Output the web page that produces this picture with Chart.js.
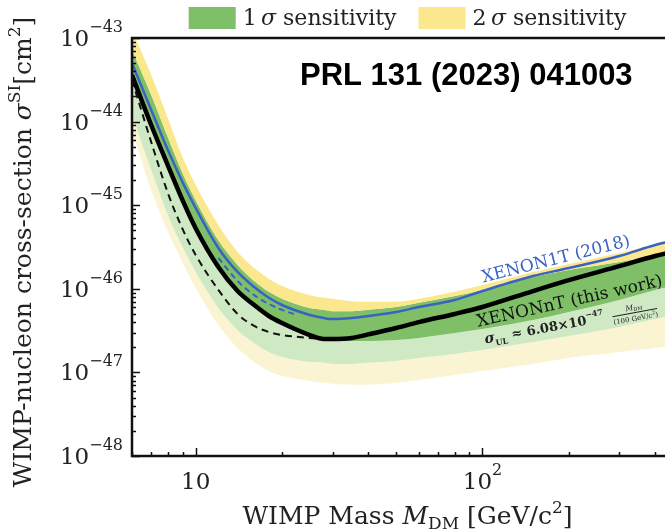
<!DOCTYPE html>
<html>
<head>
<meta charset="utf-8">
<script src="https://cdn.jsdelivr.net/npm/chart.js@4.4.0/dist/chart.umd.min.js"></script>
<style>
  html, body { margin: 0; padding: 0; background: #fff; }
  /* canvas is a bit wider than the page, the right frame edge falls outside */
  #wrap { width: 665px; height: 530px; overflow: hidden; }
</style>
</head>
<body>
<div id="wrap"><canvas id="limitChart" width="700" height="530"></canvas></div>
<script>
// WIMP mass grid [GeV/c^2]
const masses = [6, 7, 8, 9, 10, 12, 14, 16, 18, 20, 25, 28, 30, 35, 40, 50, 60, 80, 100, 150, 200, 300, 400, 500];

// XENONnT upper limit (power constrained) [cm^2]
const limitNT = [3.6e-44, 9.1e-45, 3.0e-45, 1.15e-45, 5.3e-46, 1.82e-46, 9.4e-47, 6.4e-47, 4.73e-47, 3.9e-47, 2.8e-47, 2.51e-47,
                 2.51e-47, 2.58e-47, 2.85e-47, 3.4e-47, 4.0e-47, 5.0e-47, 6.06e-47, 9.4e-47, 1.27e-46, 1.87e-46, 2.47e-46, 2.99e-46];

// unconstrained limit, low masses only
const unconstrainedMasses = [6, 7, 8, 9, 10, 12, 14, 16, 18, 20, 25, 28];
const unconstrained = [3.15e-44, 5.7e-45, 1.4e-45, 5.2e-46, 2.54e-46, 9.7e-47, 5.0e-47, 3.59e-47, 3.04e-47, 2.8e-47, 2.58e-47, 2.51e-47];

// XENON1T (2018)
const limit1T = [5.0e-44, 1.38e-44, 4.57e-45, 1.89e-45, 9.3e-46, 3.08e-46, 1.59e-46, 1.05e-46, 7.8e-47, 6.4e-47, 4.86e-47, 4.47e-47,
                 4.35e-47, 4.47e-47, 4.73e-47, 5.28e-47, 6.06e-47, 7.35e-47, 9.4e-47, 1.42e-46, 1.77e-46, 2.47e-46, 3.34e-46, 4.05e-46];
const limit1TDashMasses = [12, 14, 16, 18, 20, 22];
const limit1TDash = [2.34e-46, 1.24e-46, 8.4e-47, 6.6e-47, 5.6e-47, 5.0e-47];

// sensitivity bands
const sens2Up = [1.25e-43, 3.61e-44, 1.1e-44, 3.77e-45, 1.74e-45, 5.8e-46, 2.75e-46, 1.77e-46, 1.31e-46, 1.08e-46, 8.4e-47, 7.8e-47,
                 7.6e-47, 7.1e-47, 7.0e-47, 7.0e-47, 7.6e-47, 9.2e-47, 1.11e-46, 1.59e-46, 1.98e-46, 2.68e-46, 3.4e-46, 4.2e-46];
const sens1Up = [7.2e-44, 2.08e-44, 6.5e-45, 2.43e-45, 1.15e-45, 3.8e-46, 1.93e-46, 1.24e-46, 9.2e-47, 7.6e-47, 5.9e-47, 5.6e-47,
                 5.4e-47, 5.4e-47, 5.6e-47, 6.06e-47, 6.8e-47, 8.2e-47, 9.7e-47, 1.38e-46, 1.68e-46, 2.09e-46, 2.54e-46, 2.99e-46];
const sensMedian = [3.6e-44, 9.1e-45, 3.0e-45, 1.15e-45, 5.3e-46, 1.82e-46, 9.4e-47, 6.4e-47, 4.73e-47, 3.9e-47, 2.8e-47, 2.51e-47,
                    2.44e-47, 2.37e-47, 2.37e-47, 2.44e-47, 2.58e-47, 2.96e-47, 3.3e-47, 4.23e-47, 5.28e-47, 7.35e-47, 9.67e-47, 1.17e-46];
const sens1Down = [1.2e-44, 2.64e-45, 7.6e-46, 3.16e-46, 1.59e-46, 5.9e-47, 3.2e-47, 2.25e-47, 1.75e-47, 1.53e-47, 1.33e-47, 1.3e-47,
                   1.26e-47, 1.26e-47, 1.3e-47, 1.37e-47, 1.49e-47, 1.66e-47, 1.85e-47, 2.31e-47, 2.73e-47, 3.5e-47, 4.35e-47, 5.1e-47];
const sens2Down = [7.9e-45, 1.52e-45, 4.8e-46, 2.09e-46, 1.02e-46, 3.69e-47, 1.96e-47, 1.33e-47, 1.04e-47, 9.1e-48, 7.9e-48, 7.5e-48,
                   7.3e-48, 7.1e-48, 7.1e-48, 7.5e-48, 8.1e-48, 9.3e-48, 1.04e-47, 1.26e-47, 1.49e-47, 1.75e-47, 1.96e-47, 2.19e-47];

// tick labels: 10^power
const yTickPowers = [-48, -47, -46, -45, -44, -43];
const xTickPowers = [1, 2];

const col = {
  yellow: 'rgb(250,231,142)',
  green: 'rgb(126,191,103)',
  paleGreen: 'rgb(207,233,197)',
  paleYellow: 'rgb(251,244,211)',
  blue: 'rgb(58,98,196)',
  ink: '#222'
};
const serif = '"DejaVu Serif", serif';
const font = (size, style) => (style ? style + ' ' : '') + size + 'px ' + serif;

const pts = (xs, ys) => xs.map((m, i) => ({ x: m, y: ys[i] }));

// text made of pieces with their own font / baseline shift
function runWidth(ctx, parts) {
  let w = 0;
  for (const p of parts) {
    if (p.frac) {
      w += Math.max(runWidth(ctx, p.num), runWidth(ctx, p.den)) + 2;
    } else {
      ctx.font = p.font;
      w += ctx.measureText(p.t).width;
    }
  }
  return w;
}
function drawRun(ctx, parts, x, y) {
  for (const p of parts) {
    if (p.frac) {
      const wn = runWidth(ctx, p.num), wd = runWidth(ctx, p.den), w = Math.max(wn, wd);
      drawRun(ctx, p.num, x + 1 + (w - wn) / 2, y - 6);
      drawRun(ctx, p.den, x + 1 + (w - wd) / 2, y + 5);
      ctx.fillRect(x + 1, y - 3.5, w, 0.8);
      x += w + 2;
    } else {
      ctx.font = p.font;
      ctx.fillText(p.t, x, y + (p.dy || 0));
      x += ctx.measureText(p.t).width;
    }
  }
}
function power(p) {
  const parts = [{ t: '10', font: font(23) }];
  if (p !== 1) parts.push({ t: (p < 0 ? '\u2212' : '') + Math.abs(p), font: font(16), dy: -14 });
  return parts;
}

// rotated labels on the curves, anchored in data units (mass, cross-section)
const curveLabels = [
  { at: [182, 1.98e-46], angle: -14, color: col.blue,
    parts: [{ t: 'XENON1T (2018)', font: font(17) }] },
  { at: [203, 6.2e-47], angle: -12.5, color: '#111',
    parts: [{ t: 'XENONnT (this work)', font: font(17) }] },
  { at: [205, 3.45e-47], angle: -10.5, color: '#222',
    parts: [
      { t: '\u03c3', font: font(14, 'italic bold') },
      { t: 'UL', font: font(8, 'bold'), dy: 4 },
      { t: ' \u2248 6.08\u00d710', font: font(13, 'bold') },
      { t: '\u221247', font: font(8, 'bold'), dy: -7 },
      { t: '  ', font: font(12) },
      { frac: true,
        num: [{ t: 'M', font: font(7.5, 'italic') }, { t: 'DM', font: font(5), dy: 1 }],
        den: [{ t: '(100 GeV/c', font: font(7) }, { t: '2', font: font(5), dy: -3 }, { t: ')', font: font(7) }] }
    ] }
];

const decorations = {
  id: 'decorations',
  afterDatasetsDraw(chart) {
    const { ctx, chartArea: a, scales: { x, y } } = chart;
    ctx.save();

    // curve labels
    for (const lab of curveLabels) {
      const px = x.getPixelForValue(lab.at[0]), py = y.getPixelForValue(lab.at[1]);
      ctx.save();
      ctx.translate(px, py);
      ctx.rotate(lab.angle * Math.PI / 180);
      ctx.fillStyle = lab.color;
      ctx.textBaseline = 'alphabetic';
      drawRun(ctx, lab.parts, -runWidth(ctx, lab.parts) / 2, 0);
      ctx.restore();
    }

    // frame
    ctx.strokeStyle = '#111';
    ctx.lineWidth = 2.5;
    ctx.strokeRect(a.left, a.top, a.right - a.left, a.bottom - a.top);

    // inward ticks, majors at decades
    ctx.lineWidth = 1.5;
    ctx.beginPath();
    for (let e = -48; e <= -43; e++) {
      for (let k = 1; k <= 9; k++) {
        const v = k * Math.pow(10, e);
        if (v > 1.0001e-43) break;
        const py = Math.round(y.getPixelForValue(v)) + 0.5;
        ctx.moveTo(a.left, py);
        ctx.lineTo(a.left + (k === 1 ? 8 : 4), py);
      }
    }
    for (let e = 0; e <= 2; e++) {
      for (let k = 1; k <= 9; k++) {
        const v = k * Math.pow(10, e);
        if (v < x.min || v > x.max) continue;
        const px = Math.round(x.getPixelForValue(v)) + 0.5;
        ctx.moveTo(px, a.bottom);
        ctx.lineTo(px, a.bottom - (k === 1 ? 8 : 4));
      }
    }
    ctx.stroke();

    // tick labels
    ctx.fillStyle = col.ink;
    ctx.textBaseline = 'alphabetic';
    for (const p of yTickPowers) {
      const py = y.getPixelForValue(Math.pow(10, p));
      const parts = power(p);
      drawRun(ctx, parts, a.left - 9 - runWidth(ctx, parts), py + 8);
    }
    for (const p of xTickPowers) {
      const px = x.getPixelForValue(Math.pow(10, p));
      const parts = power(p);
      drawRun(ctx, parts, px - runWidth(ctx, parts) / 2, a.bottom + 33);
    }

    // axis titles
    const xTitle = [
      { t: 'WIMP Mass ', font: font(25) }, { t: 'M', font: font(25, 'italic') },
      { t: 'DM', font: font(17), dy: 5 }, { t: ' [GeV/c', font: font(25) },
      { t: '2', font: font(17), dy: -11 }, { t: ']', font: font(25) }
    ];
    drawRun(ctx, xTitle, (a.left + a.right) / 2 - runWidth(ctx, xTitle) / 2, 524);

    const yTitle = [
      { t: 'WIMP-nucleon cross-section ', font: font(25) }, { t: '\u03c3', font: font(25, 'italic') },
      { t: 'SI', font: font(17), dy: -11 }, { t: '[cm', font: font(25) },
      { t: '2', font: font(17), dy: -11 }, { t: ']', font: font(25) }
    ];
    ctx.save();
    ctx.translate(31, 252);
    ctx.rotate(-Math.PI / 2);
    drawRun(ctx, yTitle, -runWidth(ctx, yTitle) / 2, 0);
    ctx.restore();

    // legend above the axes
    const items = [
      { color: col.green, parts: [{ t: '1\u2009', font: font(22) }, { t: '\u03c3', font: font(22, 'italic') }, { t: ' sensitivity', font: font(22) }] },
      { color: col.yellow, parts: [{ t: '2\u2009', font: font(22) }, { t: '\u03c3', font: font(22, 'italic') }, { t: ' sensitivity', font: font(22) }] }
    ];
    const boxW = 47, boxH = 22, gap = 7, spacing = 22;
    let total = 0;
    items.forEach((it, i) => { total += boxW + gap + runWidth(ctx, it.parts) + (i ? spacing : 0); });
    let lx = (a.left + a.right) / 2 - total / 2;
    for (const it of items) {
      ctx.fillStyle = it.color;
      ctx.fillRect(lx, 7, boxW, boxH);
      ctx.fillStyle = col.ink;
      drawRun(ctx, it.parts, lx + boxW + gap, 25);
      lx += boxW + gap + runWidth(ctx, it.parts) + spacing;
    }

    // reference stamp
    ctx.fillStyle = '#000';
    ctx.font = 'bold 31px "Liberation Sans", Arial, sans-serif';
    ctx.fillText('PRL 131 (2023) 041003', 300, 85);

    ctx.restore();
  }
};

const band = (label, data, fill, color) => ({
  label, data: pts(masses, data), fill: fill === false ? false : { target: fill },
  backgroundColor: color, borderColor: 'rgba(0,0,0,0)', borderWidth: 0, order: 10
});

new Chart(document.getElementById('limitChart'), {
  type: 'line',
  data: {
    datasets: [
      { label: 'XENONnT', data: pts(masses, limitNT), borderColor: '#000', borderWidth: 4.5, fill: false, order: 0 },
      { label: 'unconstrained', data: pts(unconstrainedMasses, unconstrained), borderColor: '#111', borderWidth: 2,
        borderDash: [7, 5], fill: false, order: 1 },
      { label: 'XENON1T (2018)', data: pts(masses, limit1T), borderColor: col.blue, borderWidth: 2.5, fill: false, order: 2 },
      { label: 'XENON1T dashed', data: pts(limit1TDashMasses, limit1TDash), borderColor: col.blue, borderWidth: 2,
        borderDash: [6, 4], fill: false, order: 2 },
      band('2 sigma up', sens2Up, 5, col.yellow),
      band('1 sigma up', sens1Up, 6, col.green),
      band('median', sensMedian, false, 'rgba(0,0,0,0)'),
      band('1 sigma down', sens1Down, 6, col.paleGreen),
      band('2 sigma down', sens2Down, 7, col.paleYellow)
    ]
  },
  options: {
    responsive: false,
    animation: false,
    devicePixelRatio: 1,
    layout: { padding: { top: 38, right: 17, left: 0, bottom: 0 } },
    elements: {
      point: { radius: 0 },
      line: { cubicInterpolationMode: 'monotone' }
    },
    plugins: {
      legend: { display: false },
      tooltip: { enabled: false }
    },
    scales: {
      x: {
        type: 'logarithmic', min: 6, max: 500,
        ticks: { display: false }, grid: { display: false }, border: { display: false },
        afterFit: s => { s.height = 74; }
      },
      y: {
        type: 'logarithmic', min: 1e-48, max: 1e-43,
        ticks: { display: false }, grid: { display: false }, border: { display: false },
        afterFit: s => { s.width = 132; }
      }
    }
  },
  plugins: [decorations]
});
</script>
</body>
</html>
